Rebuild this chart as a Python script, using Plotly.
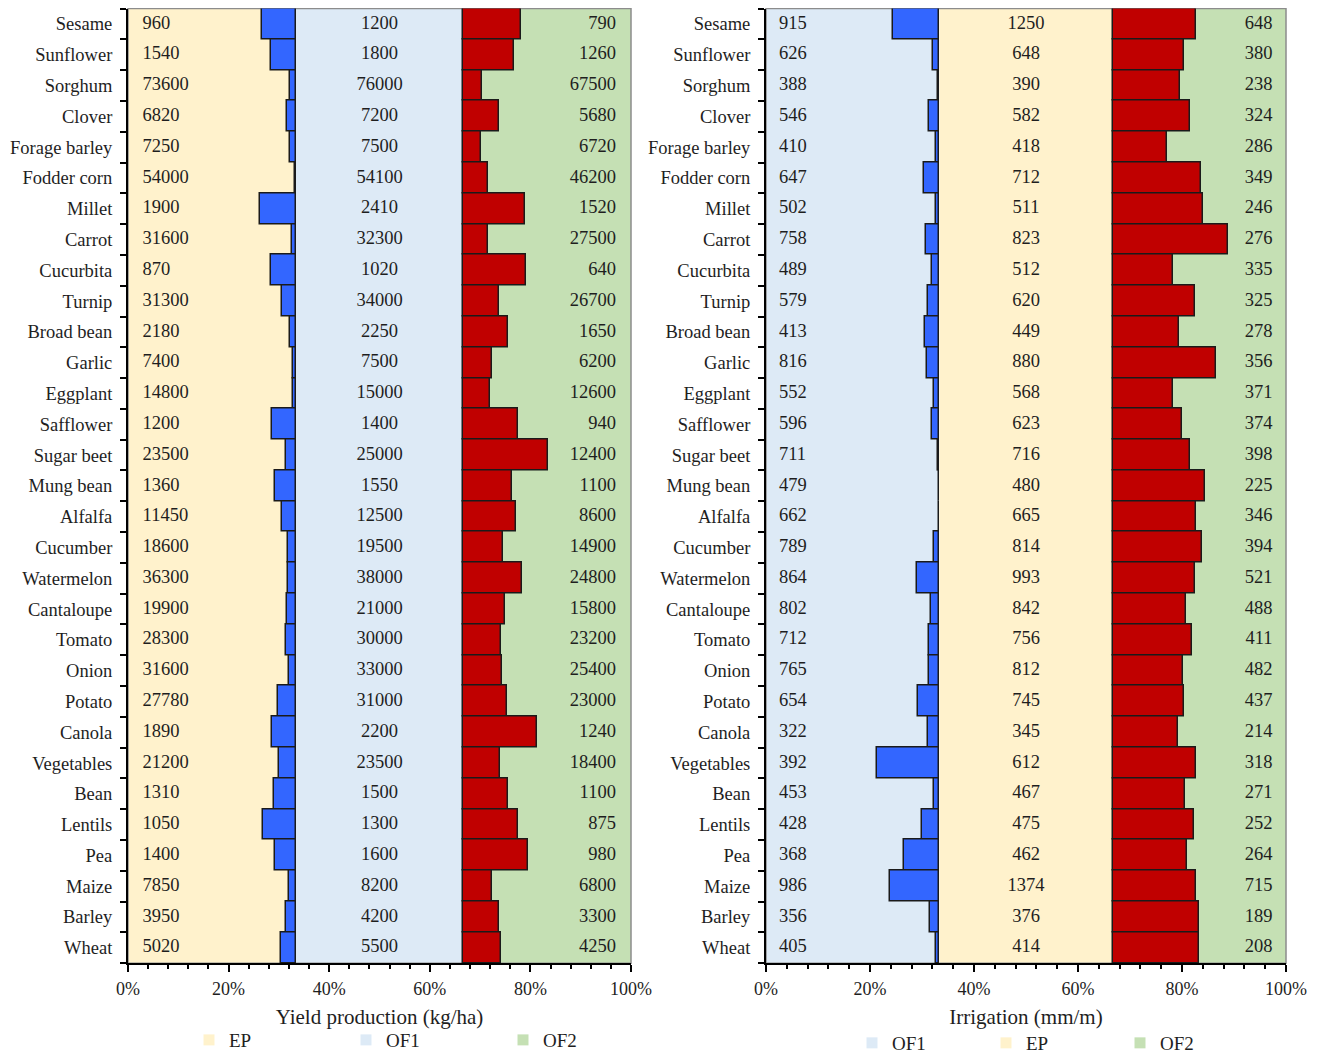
import plotly.graph_objects as go

# ---------------- data (top to bottom as shown) ----------------
crops = ["Sesame", "Sunflower", "Sorghum", "Clover", "Forage barley", "Fodder corn", "Millet",
         "Carrot", "Cucurbita", "Turnip", "Broad bean", "Garlic", "Eggplant", "Safflower",
         "Sugar beet", "Mung bean", "Alfalfa", "Cucumber", "Watermelon", "Cantaloupe", "Tomato",
         "Onion", "Potato", "Canola", "Vegetables", "Bean", "Lentils", "Pea", "Maize", "Barley", "Wheat"]

# Yield production (kg/ha)
yield_ep = [960, 1540, 73600, 6820, 7250, 54000, 1900, 31600, 870, 31300, 2180, 7400, 14800, 1200,
            23500, 1360, 11450, 18600, 36300, 19900, 28300, 31600, 27780, 1890, 21200, 1310, 1050,
            1400, 7850, 3950, 5020]
yield_of1 = [1200, 1800, 76000, 7200, 7500, 54100, 2410, 32300, 1020, 34000, 2250, 7500, 15000, 1400,
             25000, 1550, 12500, 19500, 38000, 21000, 30000, 33000, 31000, 2200, 23500, 1500, 1300,
             1600, 8200, 4200, 5500]
yield_of2 = [790, 1260, 67500, 5680, 6720, 46200, 1520, 27500, 640, 26700, 1650, 6200, 12600, 940,
             12400, 1100, 8600, 14900, 24800, 15800, 23200, 25400, 23000, 1240, 18400, 1100, 875,
             980, 6800, 3300, 4250]

# Irrigation (mm/m)
irr_of1 = [915, 626, 388, 546, 410, 647, 502, 758, 489, 579, 413, 816, 552, 596, 711, 479, 662, 789,
           864, 802, 712, 765, 654, 322, 392, 453, 428, 368, 986, 356, 405]
irr_ep = [1250, 648, 390, 582, 418, 712, 511, 823, 512, 620, 449, 880, 568, 623, 716, 480, 665, 814,
          993, 842, 756, 812, 745, 345, 612, 467, 475, 462, 1374, 376, 414]
irr_of2 = [648, 380, 238, 324, 286, 349, 246, 276, 335, 325, 278, 356, 371, 374, 398, 225, 346, 394,
           521, 488, 411, 482, 437, 214, 318, 271, 252, 264, 715, 189, 208]

x_ticks = [0, 20, 40, 60, 80, 100]

# ---------------- styling ----------------
FONT = "Liberation Serif, Times New Roman, serif"
C_EP = "#FFF2CC"
C_OF1 = "#DDEAF6"
C_OF2 = "#C5E0B4"
C_BLUE = "#3366FF"
C_RED = "#C00000"
TXT = "#1e1e1e"

OFF = 8                    # page body margin (figure starts at page pixel 8,8)
W, H = 1320, 1054
n = len(crops)
ypos = [n - 1 - i for i in range(n)]  # Sesame on top
third = 100 / 3

fig = go.Figure()


def px_x(p):
    return min(1.0, max(0.0, (p - OFF) / W))


def px_y(p):
    return min(1.0, max(0.0, (H - (p - OFF)) / H))


def add_panel(xa, ya, left_vals, mid_vals, right_vals, band_cols, legend_id, names, lx, rx):
    # derived bar lengths: reduction relative to the middle (reference) value, scaled to one third
    blue_len = [(m - l) / m * third for l, m in zip(left_vals, mid_vals)]
    red_len = [(m - r) / m * third for r, m in zip(right_vals, mid_vals)]
    fig.add_trace(go.Bar(x=[-v for v in blue_len], y=ypos, base=third, orientation="h",
                         width=1, marker=dict(color=C_BLUE, line=dict(color="#1a1a1a", width=1.5)),
                         xaxis=xa, yaxis=ya, showlegend=False, hoverinfo="skip"))
    fig.add_trace(go.Bar(x=red_len, y=ypos, base=2 * third, orientation="h",
                         width=1, marker=dict(color=C_RED, line=dict(color="#1a1a1a", width=1.5)),
                         xaxis=xa, yaxis=ya, showlegend=False, hoverinfo="skip"))
    tf = dict(family=FONT, size=18.5, color=TXT)
    fig.add_trace(go.Scatter(x=[lx] * n, y=ypos, mode="text", text=[str(v) for v in left_vals],
                             textposition="middle right", textfont=tf, xaxis=xa, yaxis=ya,
                             showlegend=False, hoverinfo="skip"))
    fig.add_trace(go.Scatter(x=[50] * n, y=ypos, mode="text", text=[str(v) for v in mid_vals],
                             textposition="middle center", textfont=tf, xaxis=xa, yaxis=ya,
                             showlegend=False, hoverinfo="skip"))
    fig.add_trace(go.Scatter(x=[rx] * n, y=ypos, mode="text", text=[str(v) for v in right_vals],
                             textposition="middle left", textfont=tf, xaxis=xa, yaxis=ya,
                             showlegend=False, hoverinfo="skip"))
    # legend entries
    for nm, col in zip(names, band_cols):
        fig.add_trace(go.Scatter(x=[None], y=[None], mode="markers", name=nm,
                                 marker=dict(symbol="square", size=11, color=col),
                                 xaxis=xa, yaxis=ya, legend=legend_id, showlegend=True))
    # background bands
    yref = ya + " domain"
    for k, col in enumerate(band_cols):
        fig.add_shape(type="rect", xref=xa, yref=yref, x0=k * third, x1=(k + 1) * third,
                      y0=0, y1=1, fillcolor=col, line=dict(width=0), layer="below")
    fig.add_shape(type="rect", xref=xa + " domain", yref=yref, x0=0, x1=1, y0=0, y1=1,
                  line=dict(color="#8c8c8c", width=1.5), fillcolor="rgba(0,0,0,0)", layer="below")


add_panel("x", "y", yield_ep, yield_of1, yield_of2, [C_EP, C_OF1, C_OF2], "legend",
          ["EP", "OF1", "OF2"], 2.9, 97.0)
add_panel("x2", "y2", irr_of1, irr_ep, irr_of2, [C_OF1, C_EP, C_OF2], "legend2",
          ["OF1", "EP", "OF2"], 2.5, 97.4)

ydom = [px_y(965), px_y(8.6)]


def xaxis_cfg(domain, title, anchor):
    return dict(domain=domain, range=[0, 100], tickvals=x_ticks, ticktext=[f"{t}%" for t in x_ticks],
                ticks="outside", ticklen=7, tickwidth=2, tickcolor="black",
                minor=dict(dtick=4, tick0=0, ticks="outside", ticklen=4, tickwidth=2, tickcolor="black"),
                showline=True, linecolor="black", linewidth=2, showgrid=False, zeroline=False,
                tickfont=dict(family=FONT, size=18, color=TXT), ticklabelstandoff=1,
                title=dict(text=title, font=dict(family=FONT, size=21, color=TXT), standoff=12),
                anchor=anchor, automargin=False, fixedrange=True)


def yaxis_cfg(anchor):
    return dict(domain=ydom, range=[-0.5, n - 0.5], tickmode="array", tickvals=ypos, ticktext=crops,
                ticks="outside", ticklen=0, tickfont=dict(family=FONT, size=18.5, color=TXT),
                minor=dict(tickmode="array", tickvals=[i - 0.5 for i in range(n + 1)], ticks="outside",
                           ticklen=6, tickwidth=2, tickcolor="black"),
                showline=True, linecolor="black", linewidth=2, showgrid=False, zeroline=False,
                ticklabelstandoff=10, anchor=anchor, automargin=False, fixedrange=True)


fig.update_layout(
    width=W, height=H,
    margin=dict(l=0, r=0, t=0, b=0),
    paper_bgcolor="white", plot_bgcolor="white",
    barmode="overlay", bargap=0,
    xaxis=xaxis_cfg([px_x(128), px_x(631)], "Yield production (kg/ha)", "y"),
    yaxis=yaxis_cfg("x"),
    xaxis2=xaxis_cfg([px_x(766), px_x(1286)], "Irrigation (mm/m)", "y2"),
    yaxis2=yaxis_cfg("x2"),
    legend=dict(orientation="h", x=px_x(189), y=px_y(1042), xanchor="left", yanchor="middle",
                entrywidth=112, entrywidthmode="pixels", font=dict(family=FONT, size=19, color=TXT),
                bgcolor="rgba(0,0,0,0)", itemclick=False, itemdoubleclick=False),
    legend2=dict(orientation="h", x=px_x(852), y=px_y(1045), xanchor="left", yanchor="middle",
                 entrywidth=89, entrywidthmode="pixels", font=dict(family=FONT, size=19, color=TXT),
                 bgcolor="rgba(0,0,0,0)", itemclick=False, itemdoubleclick=False),
    showlegend=True,
)

fig.write_html("out.html")
